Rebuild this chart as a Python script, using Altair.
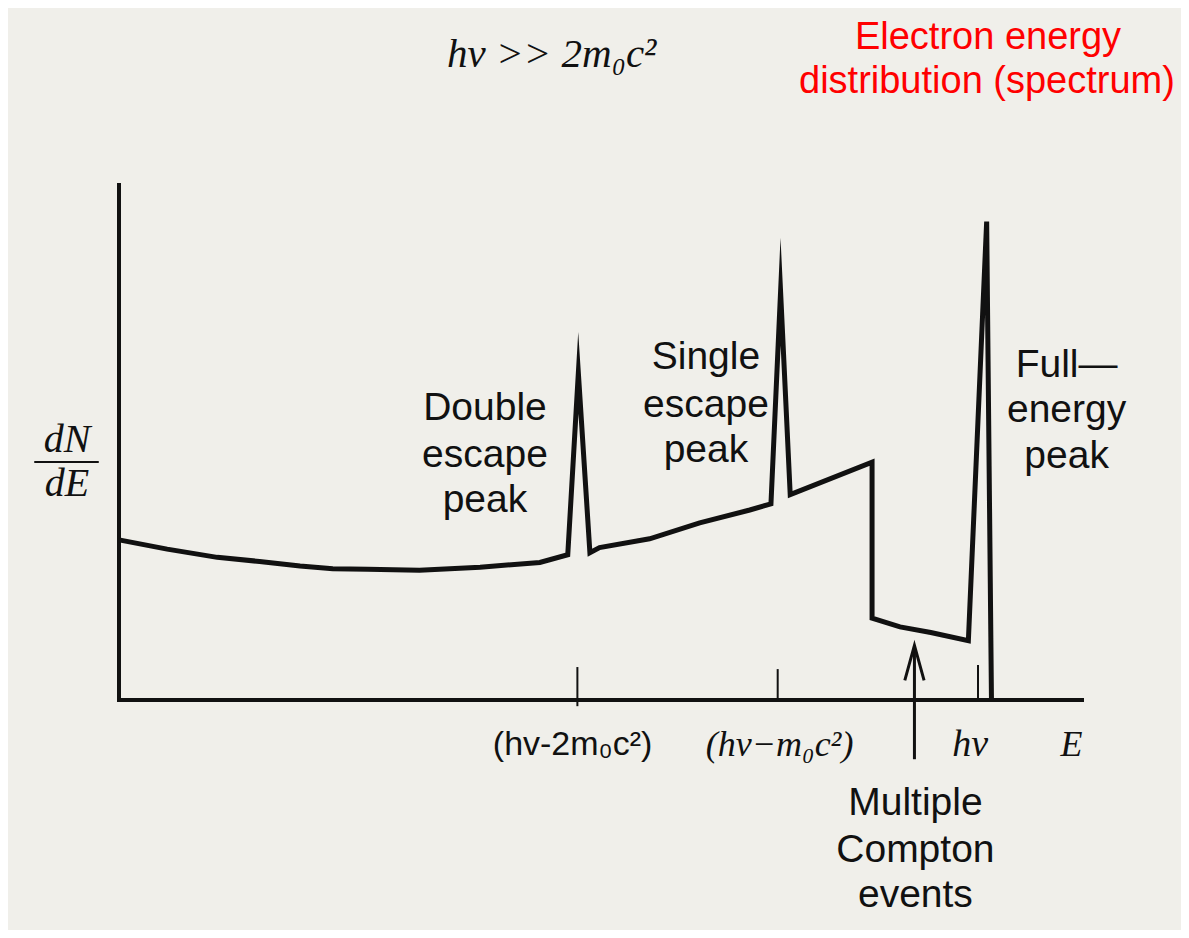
import altair as alt
import pandas as pd

# ---- spectrum (E in arbitrary units 0..100, dN/dE in arbitrary units 0..100)
E_vals = [0, 5.0, 10.2, 14.6, 18.8, 22.2, 25.8, 31.2, 37.5, 43.7, 46.6, 47.7, 48.9,
          49.9, 55.1, 60.3, 65.5, 67.7, 68.7, 69.7, 78.2, 78.2, 81.1, 84.3, 88.2, 90.1, 90.6]
dNdE = [31.1, 29.3, 27.7, 26.9, 26.0, 25.5, 25.4, 25.2, 25.8, 26.7, 28.2, 63.5, 28.6,
        29.6, 31.3, 34.4, 36.9, 38.1, 79.3, 39.9, 46.2, 15.9, 14.2, 13.1, 11.5, 92.9, 0]

# axis ticks on E axis
tick_E = [47.6, 68.4, 89.2]
tick_lo = [-1.2, 0, 0]
tick_hi = [6.4, 6.0, 6.8]

# labels
peak_lbl_E = [38.0, 38.0, 38.0, 60.95, 60.95, 60.95, 98.4, 98.4, 98.4,
              82.7, 82.7, 82.7]
peak_lbl_N = [56.7, 47.6, 38.8, 66.6, 57.3, 48.5, 65.0, 56.3, 47.4,
              -20.0, -29.1, -37.9]
peak_lbl_t = ["Double", "escape", "peak", "Single", "escape", "peak",
              "Full\u2014", "energy", "peak", "Multiple", "Compton", "events"]

math_lbl_E = [34.06, 68.6, 88.4, 98.9, -5.4, -5.4]
math_lbl_N = [125.2, -8.7, -8.7, -8.7, 50.5, 41.9]
math_lbl_t = ["h\u03bd >>  2m\u2080c\u00b2", "(h\u03bd\u2212m\u2080c\u00b2)", "h\u03bd", "E", "dN", "dE"]
math_lbl_a = ["left", "center", "center", "center", "center", "center"]
math_lbl_s = [41, 36, 38, 36, 40, 40]

red_E = [90.24, 90.13]
red_N = [128.5, 120.0]
red_t = ["Electron energy", "distribution (spectrum)"]

xs = alt.Scale(domain=[0, 100], range=[111, 1074], nice=False, zero=False)
ys = alt.Scale(domain=[0, 100], range=[692, 177], nice=False, zero=False)


def X(f="E"):
    return alt.X(f"{f}:Q", scale=xs, axis=None)


def Y(f="N"):
    return alt.Y(f"{f}:Q", scale=ys, axis=None)


curve = pd.DataFrame({"E": E_vals, "N": dNdE, "i": list(range(len(E_vals)))})
ticks = pd.DataFrame({"E": tick_E, "N": tick_lo, "N2": tick_hi})
peak_lbl = pd.DataFrame({"E": peak_lbl_E, "N": peak_lbl_N, "t": peak_lbl_t})
red_lbl = pd.DataFrame({"E": red_E, "N": red_N, "t": red_t})

layers = []

# axes
yaxis = pd.DataFrame({"E": [0], "N": [0], "N2": [100]})
xaxis = pd.DataFrame({"E": [0], "E2": [100], "N": [0]})
layers.append(alt.Chart(yaxis).mark_rule(color="#111", strokeWidth=4, strokeCap="square")
              .encode(x=X(), y=Y(), y2="N2:Q"))
layers.append(alt.Chart(xaxis).mark_rule(color="#111", strokeWidth=4, strokeCap="square")
              .encode(x=X(), x2="E2:Q", y=Y()))

# ticks
layers.append(alt.Chart(ticks).mark_rule(color="#111", strokeWidth=2)
              .encode(x=X(), y=Y(), y2="N2:Q"))

# arrow for multiple Compton events
arrow_E = 82.6
shaft = pd.DataFrame({"E": [arrow_E], "N": [-11.5], "N2": [10.4]})
layers.append(alt.Chart(shaft).mark_rule(color="#111", strokeWidth=3)
              .encode(x=X(), y=Y(), y2="N2:Q"))
head = pd.DataFrame({"E": [arrow_E - 1.0, arrow_E, arrow_E + 1.0],
                     "N": [3.8, 10.6, 3.8], "i": [0, 1, 2]})
layers.append(alt.Chart(head).mark_line(color="#111", strokeWidth=3, strokeJoin="miter")
              .encode(x=X(), y=Y(), order="i:Q"))

# spectrum curve
layers.append(alt.Chart(curve).mark_line(color="#111", strokeWidth=5, strokeJoin="miter",
                                         strokeMiterLimit=30)
              .encode(x=X(), y=Y(), order="i:Q"))

# dN/dE fraction bar
frac = pd.DataFrame({"E": [-8.8], "E2": [-2.1], "N": [46.2]})
layers.append(alt.Chart(frac).mark_rule(color="#111", strokeWidth=2)
              .encode(x=X(), x2="E2:Q", y=Y()))

# peak / event labels
layers.append(alt.Chart(peak_lbl).mark_text(align="center", baseline="middle",
                                            font="Liberation Sans", fontSize=39, color="#111")
              .encode(x=X(), y=Y(), text="t:N"))

# tick label (upright)
dbl = pd.DataFrame({"E": [47.1], "N": [-8.7], "t": ["(hv-2m\u2080c\u00b2)"]})
layers.append(alt.Chart(dbl).mark_text(align="center", baseline="middle",
                                       font="Liberation Sans", fontSize=34, color="#111")
              .encode(x=X(), y=Y(), text="t:N"))

# math labels (italic serif)
for e, n, t, a, s in zip(math_lbl_E, math_lbl_N, math_lbl_t, math_lbl_a, math_lbl_s):
    d = pd.DataFrame({"E": [e], "N": [n], "t": [t]})
    layers.append(alt.Chart(d).mark_text(align=a, baseline="middle", font="Liberation Serif",
                                         fontStyle="italic", fontSize=s, color="#111")
                  .encode(x=X(), y=Y(), text="t:N"))

# red title
layers.append(alt.Chart(red_lbl).mark_text(align="center", baseline="middle",
                                           font="Liberation Sans", fontSize=38, color="#ff0000")
              .encode(x=X(), y=Y(), text="t:N"))

chart = alt.layer(*layers).properties(
    width=1173, height=922, background="#f0efea", padding=0,
    autosize=alt.AutoSizeParams(type="none")
).configure_view(stroke=None)

chart.save("out.html", embed_options={"renderer": "svg", "actions": False})
